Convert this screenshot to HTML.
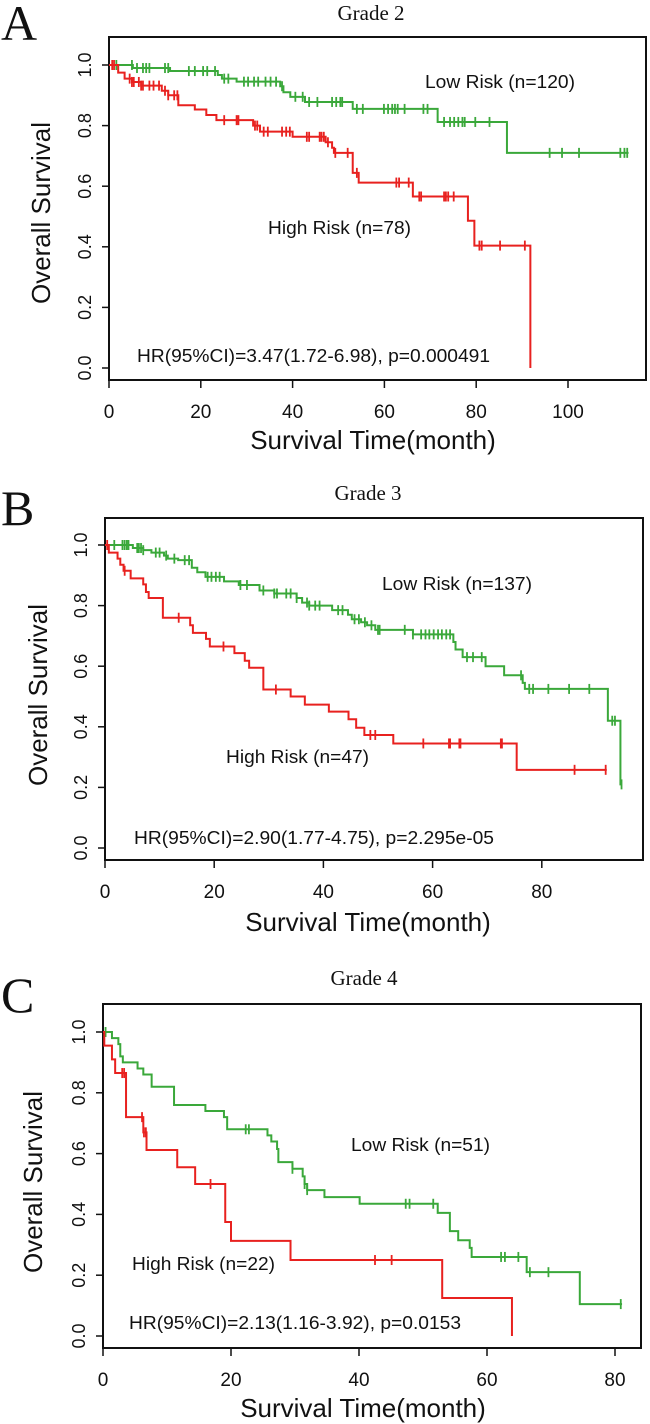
<!DOCTYPE html>
<html><head><meta charset="utf-8">
<style>
html,body{margin:0;padding:0;background:#fff;}
svg{display:block;}
text{font-family:"Liberation Sans",Arial,sans-serif;fill:#111;}
.serif{font-family:"Liberation Serif","Times New Roman",serif;}
</style></head>
<body>
<svg id="fig" width="650" height="1424" viewBox="0 0 650 1424" xmlns="http://www.w3.org/2000/svg"></svg>
<script>
// ---- Panel A data (Grade 2) ----
const aLowSteps = [[0,1],[5.2,0.99],[13.3,0.98],[23.7,0.967],[24.6,0.955],[27.8,0.945],[37.3,0.93],[38,0.91],[39.5,0.895],[42.7,0.878],[53.1,0.855],[71.6,0.812],[86.7,0.71]];
const aLowEnd = 113.2;
const aLowCens = [1.6,5.0,6.1,7.4,8.1,8.8,12.2,12.9,17.4,18.7,20.5,21.4,23.1,25.1,26.0,29.4,30.3,31.6,32.5,34.1,35.2,36.4,37.7,40.6,42.2,43.6,45.4,48.6,49.5,50.4,50.8,54.0,55.3,59.9,60.8,61.7,62.3,62.9,64.4,68.5,69.4,73.0,74.3,75.2,76.1,77.0,77.5,79.8,82.9,96.0,98.7,102.4,111.4,112.3,112.9];
const aHighSteps = [[0,1],[2,0.975],[3.4,0.955],[5,0.944],[7,0.932],[11.5,0.915],[12.9,0.9],[15.1,0.867],[18.7,0.853],[21.2,0.835],[23.4,0.818],[31.4,0.8],[32.9,0.78],[40,0.763],[47.2,0.745],[48.6,0.727],[49,0.71],[53.1,0.644],[54.4,0.612],[66.2,0.566],[78.2,0.486],[79.6,0.404],[91.8,0]];
const aHighEnd = 91.8;
const aHighCens = [0.7,1.1,4.5,5.0,5.4,6.5,7.0,7.4,8.8,9.7,10.9,12.2,12.9,14.2,14.9,25.1,27.8,28.2,31.8,32.3,33.7,34.6,37.7,38.6,39.4,43.1,43.6,45.9,46.3,46.8,47.7,49.3,52.0,54.0,62.6,63.2,65.3,67.6,68.0,73.0,73.4,73.9,75.1,80.7,81.2,85.2,90.6];
const aXTicks = [0,20,40,60,80,100];
// ---- Panel B data (Grade 3) ----
const bLowSteps = [[0,1],[5.1,0.99],[7.0,0.983],[8.5,0.975],[10.8,0.965],[11.5,0.955],[13.4,0.95],[15.9,0.925],[16.9,0.91],[18.4,0.895],[21.8,0.88],[24.5,0.868],[28.3,0.85],[31.0,0.84],[35.1,0.825],[36.1,0.81],[37.4,0.8],[41.6,0.785],[44.5,0.77],[45.2,0.755],[46.9,0.745],[48.0,0.735],[49.5,0.72],[56.4,0.705],[63.8,0.68],[64.2,0.655],[65.5,0.63],[69.7,0.6],[73.1,0.57],[76.5,0.545],[76.9,0.525],[92.1,0.42],[94.4,0.21]];
const bLowEnd = 94.6;
const bLowCens = [1.7,3.2,3.6,4.0,4.3,5.9,6.2,6.6,7.0,9.3,10.0,11.2,12.7,14.6,15.4,18.8,19.5,20.3,21.0,24.8,26.0,29.0,31.0,31.5,33.2,34.0,35.1,37.0,37.4,38.5,39.3,42.7,43.5,45.7,46.5,47.6,48.8,50.0,50.3,54.9,56.4,57.9,58.7,59.4,60.2,61.0,61.7,62.5,63.2,66.3,67.4,69.0,76.2,77.7,78.4,81.2,85.0,88.7,92.9,93.4,94.6];
const bHighSteps = [[0,1],[0.7,0.975],[2.3,0.955],[2.8,0.935],[3.4,0.915],[4.7,0.89],[7.0,0.87],[7.5,0.845],[8.0,0.825],[10.6,0.76],[15.6,0.735],[16.1,0.71],[18.5,0.69],[19.2,0.665],[23.7,0.643],[25.6,0.618],[26.4,0.595],[29.0,0.523],[34.0,0.5],[36.6,0.473],[41.0,0.45],[44.6,0.425],[46.0,0.397],[47.5,0.373],[52.8,0.345],[75.4,0.258]];
const bHighEnd = 91.9;
const bHighCens = [0.4,3.6,13.5,21.7,31.3,48.6,49.5,58.3,63.0,63.2,64.9,65.1,72.5,72.7,86.0,91.7];
const bXTicks = [0,20,40,60,80];
// ---- Panel C data (Grade 4) ----
const cLowSteps = [[0,1],[1.4,0.98],[2.4,0.96],[2.7,0.92],[3.1,0.9],[5.4,0.88],[6.3,0.86],[7.6,0.82],[11.1,0.76],[16.0,0.74],[18.9,0.72],[19.4,0.68],[25.7,0.66],[26.3,0.64],[27.2,0.615],[27.4,0.572],[29.6,0.55],[31.2,0.525],[31.5,0.5],[31.9,0.48],[34.6,0.457],[40.1,0.435],[52.3,0.405],[54.2,0.345],[55.5,0.315],[57.3,0.29],[57.6,0.26],[66.2,0.21],[74.5,0.105]];
const cLowEnd = 81.1;
const cLowCens = [0.4,22.3,22.8,29.6,31.5,31.9,47.3,47.9,51.6,62.2,62.8,64.9,66.7,69.6,80.9];
const cHighSteps = [[0,1],[0.2,0.955],[1.4,0.91],[1.9,0.865],[3.6,0.72],[6.3,0.67],[6.8,0.612],[11.6,0.555],[14.4,0.5],[19.1,0.375],[20.0,0.313],[29.3,0.25],[53.0,0.125],[63.9,0]];
const cHighEnd = 63.9;
const cHighCens = [3.0,3.3,6.1,6.4,6.7,16.8,42.5,45.1];
const cXTicks = [0,20,40,60,80];
const yTicks = [0,0.2,0.4,0.6,0.8,1.0];
const yTickLabels = ["0.0","0.2","0.4","0.6","0.8","1.0"];

const NS = "http://www.w3.org/2000/svg";
const svg = document.getElementById('fig');
const RED = "#e8211f", GREEN = "#3aa83a";
function mk(tag, attrs, parent){
  const e = document.createElementNS(NS, tag);
  for (const k in attrs) e.setAttribute(k, attrs[k]);
  (parent||svg).appendChild(e);
  return e;
}
function txt(parent, x, y, s, size, extra){
  const t = mk('text', Object.assign({x:x, y:y, 'font-size':size}, extra||{}), parent);
  t.textContent = s;
  return t;
}
function survAt(steps, t){
  let v = 1;
  for (const s of steps) { if (s[0] <= t) v = s[1]; }
  return v;
}

function panel(cfg){
  const g = mk('g', {});
  
  
  const xs = m => cfg.x0 + m * cfg.pxPerMonth;
  const ys = s => cfg.y0 - s * (cfg.y0 - cfg.y1);

  const letter = txt(g, cfg.letterX, cfg.letterY, cfg.letter, 50, {class:'serif'});
  
  
  const title = txt(g, cfg.titleX, cfg.titleY, cfg.title, 21, {class:'serif', 'text-anchor':'middle'});
  
  

  const box = mk('rect', {x:cfg.bx0, y:cfg.by0, width:cfg.bx1-cfg.bx0, height:cfg.by1-cfg.by0, fill:'none', stroke:'#111', 'stroke-width':2}, g);
  
  

  const ya = mk('g', {}, g);
  
  
  yTicks.forEach((v, i) => {
    const y = ys(v);
    mk('line', {x1:cfg.bx0-7, x2:cfg.bx0, y1:y, y2:y, stroke:'#111', 'stroke-width':1.5}, ya);
    const lx = cfg.bx0 - 18;
    const t = txt(ya, lx, y, yTickLabels[i], 18, {'text-anchor':'middle', transform:'rotate(-90 '+lx+' '+y+')'});
    
    
  });
  const yt = txt(g, cfg.yTitleX, cfg.yTitleY, 'Overall Survival', 26, {'text-anchor':'middle', transform:'rotate(-90 '+cfg.yTitleX+' '+cfg.yTitleY+')'});
  
  

  const xa = mk('g', {}, g);
  
  
  cfg.xTicks.forEach(v => {
    const x = xs(v);
    mk('line', {x1:x, x2:x, y1:cfg.by1, y2:cfg.by1+8, stroke:'#111', 'stroke-width':1.5}, xa);
    const t = txt(xa, x, cfg.by1+38, String(v), 19, {'text-anchor':'middle'});
    
    
  });
  const xt = txt(g, cfg.xTitleX, cfg.xTitleY, 'Survival Time(month)', 26, {'text-anchor':'middle'});
  
  

  function curve(steps, end, cens, color, nm){
    let d = 'M' + xs(0) + ' ' + ys(steps[0][1]);
    for (let i = 1; i < steps.length; i++) {
      d += ' H' + xs(steps[i][0]) + ' V' + ys(steps[i][1]);
    }
    d += ' H' + xs(end);
    const p = mk('path', {d:d, fill:'none', stroke:color, 'stroke-width':2}, g);
    
    
    cens.forEach(c => {
      const x = xs(c), y = ys(survAt(steps, c));
      const l = mk('line', {x1:x, x2:x, y1:y-5, y2:y+5, stroke:color, 'stroke-width':1.8}, g);
      
      
    });
  }
  curve(cfg.lowSteps, cfg.lowEnd, cfg.lowCens, GREEN, 'low-risk');
  curve(cfg.highSteps, cfg.highEnd, cfg.highCens, RED, 'high-risk');

  const lw = txt(g, cfg.lowX, cfg.lowY, cfg.lowLabel, 18, {textLength:cfg.lowW, lengthAdjust:'spacingAndGlyphs'});
  
  
  const hi = txt(g, cfg.highX, cfg.highY, cfg.highLabel, 18, {textLength:cfg.highW, lengthAdjust:'spacingAndGlyphs'});
  
  
  const hr = txt(g, cfg.hrX, cfg.hrY, cfg.hrLabel, 18, {textLength:cfg.hrW, lengthAdjust:'spacingAndGlyphs'});
  
  
}

panel({name:'panel-a-grade-2', letter:'A', letterX:1, letterY:40, title:'Grade 2', titleX:371, titleY:20,
  bx0:109, bx1:646, by0:37, by1:380, x0:109, pxPerMonth:4.59, y0:368, y1:65,
  xTicks:aXTicks, yTitleX:50, yTitleY:213, xTitleX:373, xTitleY:449,
  lowSteps:aLowSteps, lowEnd:aLowEnd, lowCens:aLowCens, highSteps:aHighSteps, highEnd:aHighEnd, highCens:aHighCens,
  lowLabel:'Low Risk (n=120)', lowX:425, lowY:88, lowW:150,
  highLabel:'High Risk (n=78)', highX:268, highY:234, highW:143,
  hrLabel:'HR(95%CI)=3.47(1.72-6.98), p=0.000491', hrX:137, hrY:362, hrW:353});

panel({name:'panel-b-grade-3', letter:'B', letterX:1, letterY:525, title:'Grade 3', titleX:368, titleY:500,
  bx0:105, bx1:643, by0:518, by1:860, x0:105, pxPerMonth:5.46, y0:848, y1:545,
  xTicks:bXTicks, yTitleX:47, yTitleY:695, xTitleX:368, xTitleY:931,
  lowSteps:bLowSteps, lowEnd:bLowEnd, lowCens:bLowCens, highSteps:bHighSteps, highEnd:bHighEnd, highCens:bHighCens,
  lowLabel:'Low Risk (n=137)', lowX:382, lowY:590, lowW:150,
  highLabel:'High Risk (n=47)', highX:226, highY:763, highW:143,
  hrLabel:'HR(95%CI)=2.90(1.77-4.75), p=2.295e-05', hrX:134, hrY:844, hrW:360});

panel({name:'panel-c-grade-4', letter:'C', letterX:1, letterY:1012, title:'Grade 4', titleX:364, titleY:985,
  bx0:103, bx1:641, by0:1004, by1:1348, x0:103, pxPerMonth:6.4, y0:1336, y1:1032,
  xTicks:cXTicks, yTitleX:42, yTitleY:1182, xTitleX:363, xTitleY:1417,
  lowSteps:cLowSteps, lowEnd:cLowEnd, lowCens:cLowCens, highSteps:cHighSteps, highEnd:cHighEnd, highCens:cHighCens,
  lowLabel:'Low Risk (n=51)', lowX:351, lowY:1151, lowW:139,
  highLabel:'High Risk (n=22)', highX:132, highY:1270, highW:143,
  hrLabel:'HR(95%CI)=2.13(1.16-3.92), p=0.0153', hrX:129, hrY:1329, hrW:332});
</script>
</body></html>
